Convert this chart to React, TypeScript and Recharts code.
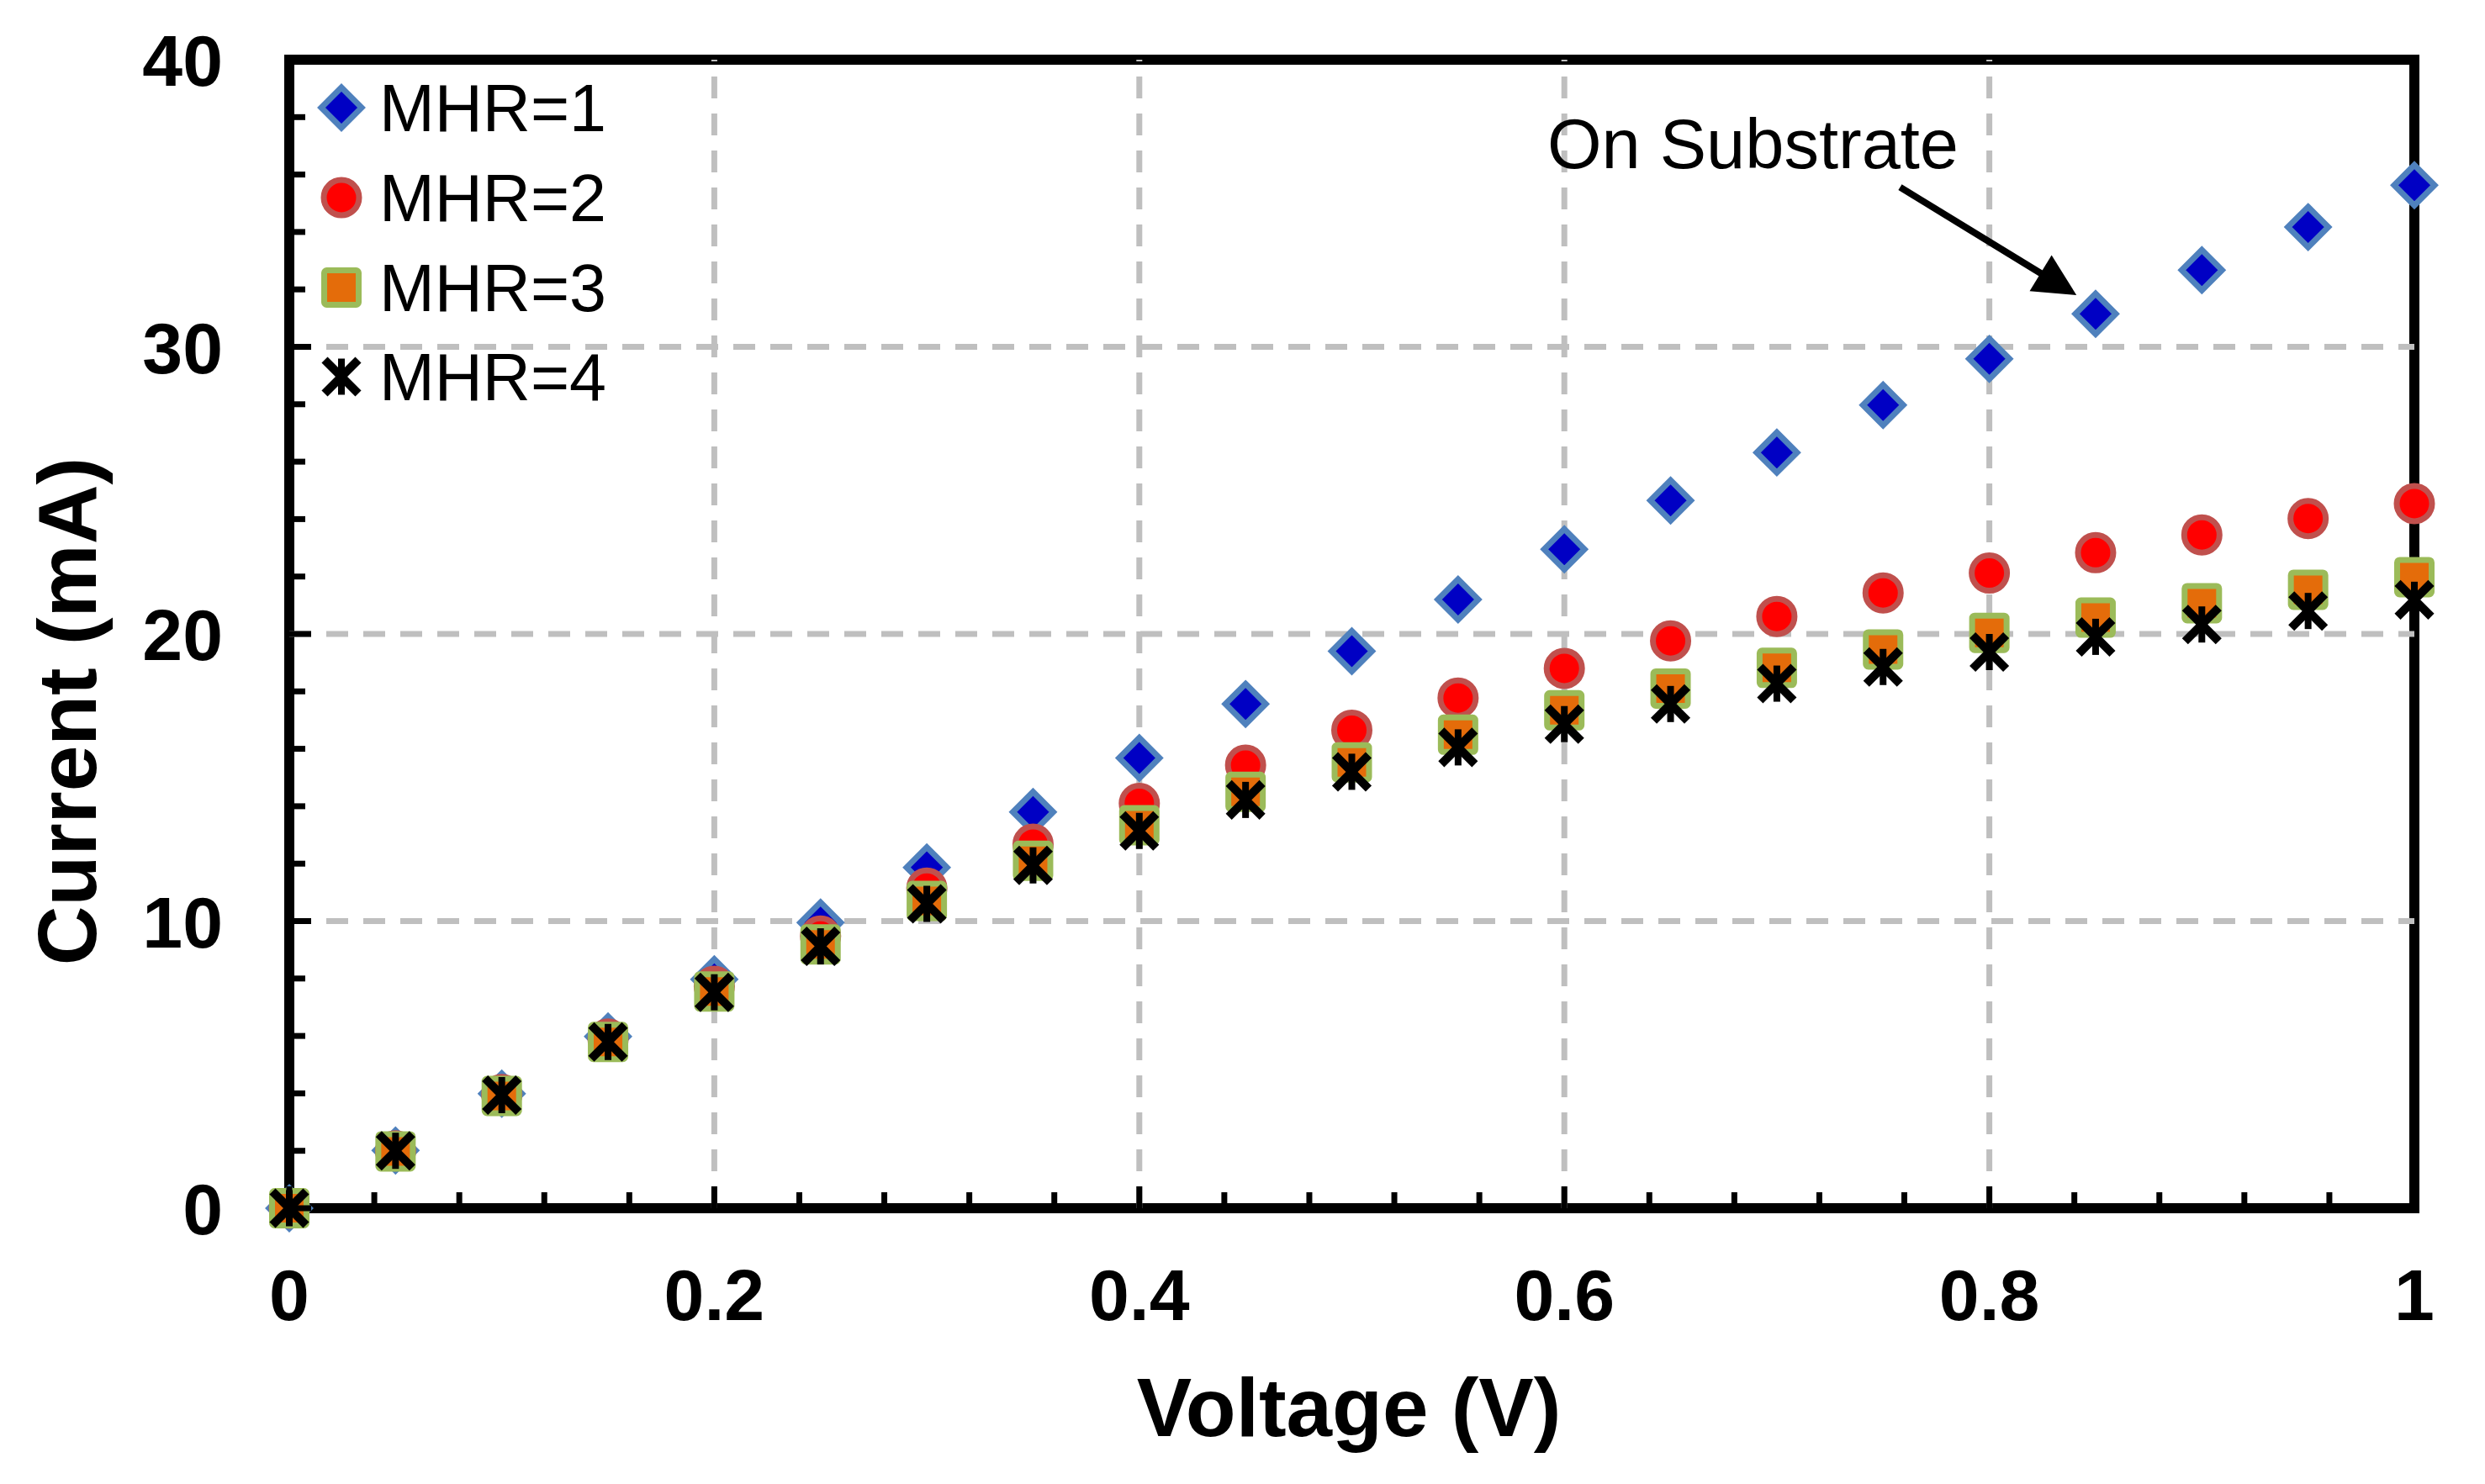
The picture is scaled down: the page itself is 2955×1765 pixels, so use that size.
import React from 'react';
import { ScatterChart, Scatter, XAxis, YAxis, ReferenceLine, ReferenceArea, ReferenceDot } from 'recharts';

const voltage = [0, 0.05, 0.1, 0.15, 0.2, 0.25, 0.3, 0.35, 0.4, 0.45, 0.5, 0.55, 0.6, 0.65, 0.7, 0.75, 0.8, 0.85, 0.9, 0.95, 1.0];
const mhr1 = [0, 2.01, 3.99, 5.98, 7.97, 9.95, 11.87, 13.8, 15.68, 17.56, 19.4, 21.2, 22.95, 24.65, 26.32, 27.97, 29.58, 31.15, 32.67, 34.17, 35.63];
const mhr2 = [0, 2.0, 3.96, 5.89, 7.73, 9.48, 11.15, 12.68, 14.1, 15.43, 16.65, 17.77, 18.8, 19.76, 20.61, 21.43, 22.12, 22.83, 23.45, 24.02, 24.54];
const mhr3 = [0, 1.98, 3.91, 5.79, 7.55, 9.19, 10.7, 12.1, 13.34, 14.5, 15.53, 16.49, 17.34, 18.1, 18.82, 19.46, 20.04, 20.57, 21.07, 21.54, 21.98];
const mhr4 = [0, 2.0, 3.94, 5.79, 7.52, 9.12, 10.6, 11.94, 13.14, 14.22, 15.2, 16.05, 16.86, 17.56, 18.27, 18.85, 19.37, 19.9, 20.33, 20.8, 21.19];
const seriesNames = ['MHR=1', 'MHR=2', 'MHR=3', 'MHR=4'];

const xTicks = [0, 0.04, 0.08, 0.12, 0.16, 0.2, 0.24, 0.28, 0.32, 0.36, 0.4, 0.44, 0.48, 0.52, 0.56, 0.6, 0.64, 0.68, 0.72, 0.76, 0.8, 0.84, 0.88, 0.92, 0.96, 1];
const xMajor = [0, 0.2, 0.4, 0.6, 0.8, 1];
const yTicks = [0, 2, 4, 6, 8, 10, 12, 14, 16, 18, 20, 22, 24, 26, 28, 30, 32, 34, 36, 38, 40];
const yMajor = [0, 10, 20, 30, 40];
const gridX = [0.2, 0.4, 0.6, 0.8];
const gridY = [10, 20, 30];
const arrowFrom = { x: 0.758, y: 35.56 };
const arrowTo = { x: 0.841, y: 31.8 };
const noteAt = { x: 0.592, y: 36.22 };
const noteText = 'On Substrate';

const FONT = '"Liberation Sans", Arial, sans-serif';
const W = 2955;
const H = 1765;

const toPoints = (ys: number[]) => voltage.map((v, i) => ({ v, i: ys[i] }));

const isMajor = (list: number[], v: number) => list.some((m) => Math.abs(m - v) < 1e-9);

const Diamond = ({ cx, cy }: any) => (
  <path d={`M${cx},${cy - 24} L${cx + 24},${cy} L${cx},${cy + 24} L${cx - 24},${cy} Z`} fill="#0000C4" stroke="#4F81BD" strokeWidth={7} />
);
const Dot = ({ cx, cy }: any) => <circle cx={cx} cy={cy} r={21} fill="#FF0000" stroke="#C0504D" strokeWidth={7} />;
const Square = ({ cx, cy }: any) => (
  <rect x={cx - 20.5} y={cy - 20.5} width={41} height={41} rx={3} fill="#E46C0A" stroke="#9BBB59" strokeWidth={7} />
);
const Star = ({ cx, cy }: any) => (
  <g stroke="#000" strokeLinecap="butt">
    <line x1={cx} y1={cy - 21.5} x2={cx} y2={cy + 21.5} strokeWidth={8} />
    <line x1={cx - 20} y1={cy - 20} x2={cx + 20} y2={cy + 20} strokeWidth={10} />
    <line x1={cx + 20} y1={cy - 20} x2={cx - 20} y2={cy + 20} strokeWidth={10} />
  </g>
);
const shapes = [Diamond, Dot, Square, Star];

const XTick = (props: any) => {
  const { x, y, payload } = props;
  const v = payload.value;
  const major = isMajor(xMajor, v);
  return (
    <g>
      <line x1={x} y1={y} x2={x} y2={y - (major ? 26 : 19)} stroke="#000" strokeWidth={7} />
      {major && (
        <text x={x} y={y + 133} textAnchor="middle" fontFamily={FONT} fontWeight="bold" fontSize={86} fill="#000">
          {String(v)}
        </text>
      )}
    </g>
  );
};

const YTick = (props: any) => {
  const { x, y, payload } = props;
  const v = payload.value;
  const major = isMajor(yMajor, v);
  return (
    <g>
      <line x1={x} y1={y} x2={x + (major ? 26 : 19)} y2={y} stroke="#000" strokeWidth={7} />
      {major && (
        <text x={x - 79} y={y + 31} textAnchor="end" fontFamily={FONT} fontWeight="bold" fontSize={86} fill="#000">
          {String(v)}
        </text>
      )}
    </g>
  );
};

const Arrow = (props: any) => {
  const { x1, y1, x2, y2 } = props;
  const dx = x2 - x1;
  const dy = y2 - y1;
  const len = Math.sqrt(dx * dx + dy * dy) || 1;
  const ux = dx / len;
  const uy = dy / len;
  const hl = 50;
  const hw = 25;
  const bx = x2 - ux * hl;
  const by = y2 - uy * hl;
  return (
    <g>
      <line x1={x1} y1={y1} x2={bx + ux * 4} y2={by + uy * 4} stroke="#000" strokeWidth={8} />
      <polygon points={`${x2},${y2} ${bx - uy * hw},${by + ux * hw} ${bx + uy * hw},${by - ux * hw}`} fill="#000" />
    </g>
  );
};

const Note = (props: any) => (
  <text x={props.cx} y={props.cy} fontFamily={FONT} fontSize={83} fill="#000">
    {noteText}
  </text>
);

export default function App() {
  const legendRows = [128, 235, 342, 448];
  return (
    <div style={{ position: 'absolute', left: 0, top: 0, width: W, height: H, background: '#fff' }}>
      <ScatterChart width={W} height={H} margin={{ top: 71, right: 84, bottom: 128, left: 144 }}>
        <XAxis
          type="number"
          dataKey="v"
          domain={[0, 1]}
          ticks={xTicks}
          interval={0}
          height={200}
          axisLine={false}
          tickLine={false}
          tickSize={0}
          tickMargin={0}
          tick={<XTick />}
        />
        <YAxis
          type="number"
          dataKey="i"
          domain={[0, 40]}
          ticks={yTicks}
          interval={0}
          width={200}
          axisLine={false}
          tickLine={false}
          tickSize={0}
          tickMargin={0}
          tick={<YTick />}
        />
        {gridX.map((g) => (
          <ReferenceLine key={'gx' + g} x={g} stroke="#BFBFBF" strokeWidth={7} strokeDasharray="26 18" />
        ))}
        {gridY.map((g) => (
          <ReferenceLine key={'gy' + g} y={g} stroke="#BFBFBF" strokeWidth={7} strokeDasharray="26 18" />
        ))}
        <ReferenceArea x1={0} x2={1} y1={0} y2={40} fill="none" fillOpacity={0} stroke="#000" strokeWidth={12} />
        {[mhr1, mhr2, mhr3, mhr4].map((ys, k) => {
          const Shape = shapes[k];
          return (
            <Scatter
              key={seriesNames[k]}
              name={seriesNames[k]}
              data={toPoints(ys)}
              isAnimationActive={false}
              shape={(p: any) => <Shape cx={p.cx} cy={p.cy} />}
            />
          );
        })}
        <ReferenceLine segment={[arrowFrom, arrowTo]} stroke="#000" strokeWidth={8} shape={Arrow} />
        <ReferenceDot x={noteAt.x} y={noteAt.y} r={0} shape={Note} />
      </ScatterChart>
      <svg width={W} height={H} style={{ position: 'absolute', left: 0, top: 0, pointerEvents: 'none' }}>
        {seriesNames.map((n, k) => {
          const Shape = shapes[k];
          return (
            <g key={n}>
              <Shape cx={406} cy={legendRows[k]} />
              <text x={451} y={legendRows[k] + 28} fontFamily={FONT} fontSize={79} fill="#000">
                {n}
              </text>
            </g>
          );
        })}
        <text x={1604} y={1708} textAnchor="middle" fontFamily={FONT} fontWeight="bold" fontSize={98} fill="#000">
          Voltage (V)
        </text>
        <text transform="translate(114,846) rotate(-90)" textAnchor="middle" fontFamily={FONT} fontWeight="bold" fontSize={98} fill="#000">
          Current (mA)
        </text>
      </svg>
    </div>
  );
}
